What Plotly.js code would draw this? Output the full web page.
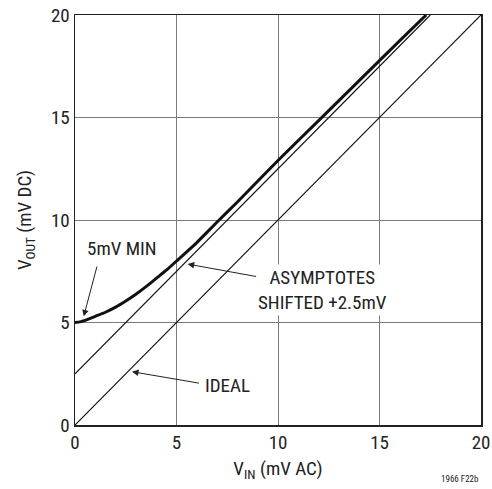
<!DOCTYPE html>
<html>
<head>
<meta charset="utf-8">
<script src="https://cdn.plot.ly/plotly-3.0.1.min.js"></script>
<style>html,body{margin:0;padding:0;background:#fff;}#chart{width:492px;height:489px;}</style>
</head>
<body>
<div id="chart"></div>
<script>
// Data
const idealX = [0, 20];
const idealY = [0, 20];
const asymX = [0, 17.5];
const asymY = [2.5, 20];
const outX = [0, 0.25, 0.5, 0.75, 1, 1.5, 2, 2.5, 3, 3.5, 4, 4.5, 5, 6, 7, 8, 10, 12, 14, 16, 17.3];
const outY = [5, 5.03, 5.1, 5.2, 5.3, 5.5, 5.75, 6.05, 6.38, 6.75, 7.15, 7.55, 8.0, 8.9, 9.9, 10.88, 12.9, 14.85, 16.8, 18.75, 20];
const tickVals = [0, 5, 10, 15, 20];
const tickText = ["0", "5", "10", "15", "20"];

const FONT = "'Liberation Sans Narrow', 'Arial Narrow', 'Roboto Condensed', 'Liberation Sans', sans-serif";

const traces = [
  {x: idealX, y: idealY, mode: 'lines', line: {color: '#111', width: 1.2}, hoverinfo: 'skip'},
  {x: asymX, y: asymY, mode: 'lines', line: {color: '#111', width: 1.2}, hoverinfo: 'skip'},
  {x: outX, y: outY, mode: 'lines', line: {color: '#111', width: 3, shape: 'spline', smoothing: 0.6}, hoverinfo: 'skip'}
];

const annFont = {family: FONT, size: 19, color: '#222'};
const arrowStyle = {showarrow: true, arrowhead: 2, arrowsize: 1.3, arrowwidth: 1, arrowcolor: '#222', text: '',
  xref: 'x', yref: 'y', axref: 'x', ayref: 'y'};
const layout = {
  width: 492, height: 489,
  margin: {l: 75, r: 11, t: 15, b: 64},
  paper_bgcolor: '#fff', plot_bgcolor: '#fff',
  showlegend: false,
  font: {family: FONT, size: 19, color: '#222'},
  xaxis: {
    range: [0, 20], tickvals: tickVals, ticktext: tickText,
    showgrid: true, gridcolor: '#7a7a7a', gridwidth: 1,
    showline: true, mirror: true, linecolor: '#222', linewidth: 1.5,
    zeroline: false, ticks: '', ticklen: 0,
    tickfont: {family: FONT, size: 19, color: '#222'},
    title: {text: 'V<sub>IN</sub> (mV AC)', font: {family: FONT, size: 19, color: '#222'}, standoff: 8}
  },
  yaxis: {
    range: [0, 20], tickvals: tickVals, ticktext: tickText,
    showgrid: true, gridcolor: '#7a7a7a', gridwidth: 1,
    showline: true, mirror: true, linecolor: '#222', linewidth: 1.5,
    zeroline: false, ticks: '', ticklen: 0,
    tickfont: {family: FONT, size: 19, color: '#222'},
    title: {text: 'V<sub>OUT</sub> (mV DC)', font: {family: FONT, size: 19, color: '#222'}, standoff: 14}
  },
  annotations: [
    Object.assign({}, arrowStyle, {x: 0.43, y: 5.3, ax: 1.1, ay: 7.8}),
    {xref: 'paper', yref: 'paper', x: (122 - 75) / 406, y: (425 - 248) / 410, text: '5mV MIN',
     showarrow: false, font: annFont, bgcolor: '#fff', xanchor: 'center', yanchor: 'middle'},
    Object.assign({}, arrowStyle, {x: 5.55, y: 7.85, ax: 9.0, ay: 7.23}),
    {xref: 'paper', yref: 'paper', x: (322 - 75) / 406, y: (425 - 290) / 410,
     text: 'ASYMPTOTES<br>SHIFTED +2.5mV', align: 'center',
     showarrow: false, font: annFont, bgcolor: '#fff', xanchor: 'center', yanchor: 'middle'},
    Object.assign({}, arrowStyle, {x: 2.81, y: 2.6, ax: 6.18, ay: 2.03}),
    {xref: 'paper', yref: 'paper', x: (227 - 75) / 406, y: (425 - 385) / 410, text: 'IDEAL',
     showarrow: false, font: annFont, bgcolor: '#fff', xanchor: 'center', yanchor: 'middle'},
    {xref: 'paper', yref: 'paper', x: 1.0, y: (425 - 479) / 410, text: '1966 F22b', showarrow: false,
     xanchor: 'right', yanchor: 'middle', font: {family: FONT, size: 9, color: '#222'}}
  ]
};

Plotly.newPlot('chart', traces, layout, {staticPlot: true, displayModeBar: false});
</script>
</body>
</html>
